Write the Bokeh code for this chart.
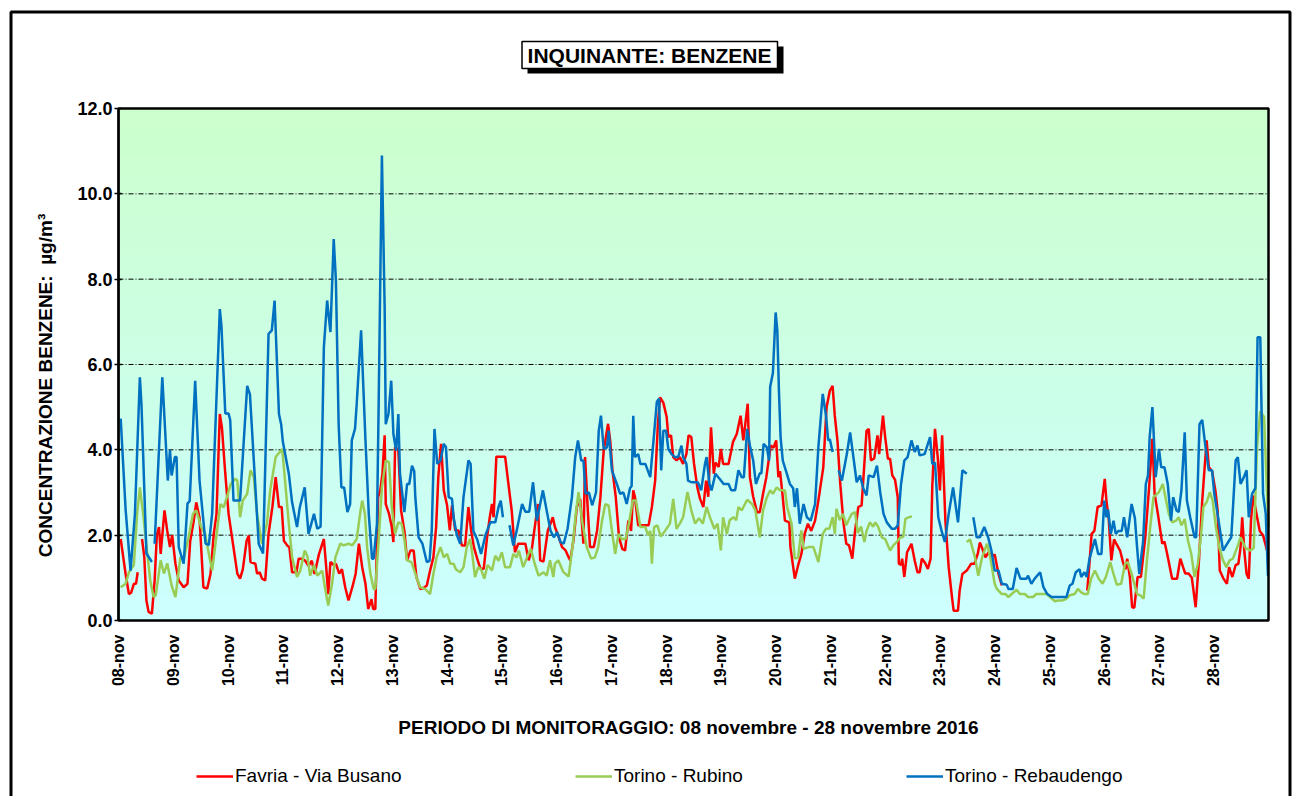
import numpy as np
from bokeh.plotting import figure
from bokeh.models import (FixedTicker, Label, BoxAnnotation, Legend, LegendItem,
                          PrintfTickFormatter, Range1d)
from bokeh.embed import file_html
from bokeh.resources import INLINE

# ---------------- data (days since 08-nov 00:00, µg/m3) ----------------
DAY_LABELS = ["08-nov", "09-nov", "10-nov", "11-nov", "12-nov", "13-nov", "14-nov",
              "15-nov", "16-nov", "17-nov", "18-nov", "19-nov", "20-nov", "21-nov",
              "22-nov", "23-nov", "24-nov", "25-nov", "26-nov", "27-nov", "28-nov"]
Y_TICKS = [0, 2, 4, 6, 8, 10, 12]
GRID_TICKS = [2, 4, 6, 8, 10]

FAVRIA_DAY = [0.04, 0.13, 0.19, 0.23, 0.28, 0.32, 0.35, None, 0.43, 0.47, 0.51, 0.55, 0.61, 0.66, 0.7, 0.74, 0.77, 0.84, 0.89, 0.94, 0.98,
              1.04, 1.1, 1.19, 1.26, 1.31, 1.37, 1.42, 1.48, 1.55, 1.62, 1.68, 1.74, 1.79, 1.85, 1.89, 1.95, 2.01, 2.09, 2.17, 2.22, 2.27,
              2.34, 2.38, 2.41, 2.5, 2.53, 2.58, 2.62, 2.68, 2.74, 2.81, 2.87, 2.93, 2.98, 3.02, 3.08, 3.12, 3.17, 3.25, 3.29, 3.35, 3.41,
              3.47, 3.53, 3.58, 3.66, 3.75, 3.79, 3.83, 3.87, 3.93, 3.97, 4.03, 4.08, 4.14, 4.2, 4.27, 4.33, 4.39, 4.45, 4.51, 4.56, 4.62,
              4.65, 4.69, 4.74, 4.78, 4.82, 4.86, 4.88, 4.94, 4.99, 5.02, 5.05, 5.11, 5.16, 5.22, 5.27, 5.33, 5.39, 5.44, 5.51, 5.57, 5.63,
              5.69, 5.75, 5.8, 5.84, 5.89, 5.94, 6.0, 6.05, 6.09, 6.15, 6.21, 6.27, 6.33, 6.39, 6.44, 6.49, 6.55, 6.61, 6.67, 6.73, 6.78,
              6.82, 6.85, 6.9, 7.06, 7.12, 7.18, 7.24, 7.3, 7.43, 7.46, 7.49, 7.55, 7.61, 7.66, 7.7, 7.76, 7.84, 7.89, 7.93, 7.97, 8.04,
              8.1, 8.16, 8.22, 8.25, 8.31, 8.37, 8.43, 8.49, 8.52, 8.57, 8.61, 8.68, 8.74, 8.8, 8.86, 8.94, 8.98, 9.02, 9.08, 9.14, 9.2,
              9.25, 9.31, 9.36, 9.4, 9.43, 9.49, 9.68, 9.74, 9.8, 9.85, 9.89, 9.95, 10.01, 10.04, 10.09, 10.13, 10.19, 10.25, 10.31, 10.37,
              10.41, 10.46, 10.51, 10.57, 10.62, 10.68, 10.73, 10.77, 10.82, 10.87, 10.9, 10.96, 11.0, 11.04, 11.14, 11.22, 11.29, 11.36,
              11.41, 11.49, 11.53, 11.59, 11.66, 11.71, 11.77, 11.83, 11.91, 11.96, 12.01, 12.05, 12.08, 12.13, 12.17, 12.25, 12.27,
              12.35, 12.41, 12.47, 12.53, 12.59, 12.65, 12.72, 12.78, 12.87, 12.93, 12.99, 13.04, 13.08, 13.13, 13.18, 13.24, 13.29,
              13.34, 13.4, 13.45, 13.51, 13.57, 13.62, 13.66, 13.7, 13.74, 13.8, 13.86, 13.89, 13.96, 14.0, 14.05, 14.09, 14.13, 14.18,
              14.23, 14.25, 14.29, 14.31, 14.35, 14.4, 14.48, 14.54, 14.59, 14.63, 14.67, 14.73, 14.78, 14.83, 14.86, 14.91, 14.96, 15.0,
              15.04, 15.1, 15.16, 15.22, 15.25, 15.33, 15.36, 15.41, 15.49, 15.57, 15.63, 15.69, 15.73, 15.77, 15.83, 15.89, 15.95, 16.0,
              16.07, 16.13, None, 17.69, 17.73, 17.77, 17.82, 17.88, 17.95, 18.01, 18.04, 18.08, 18.13, 18.18, 18.22, 18.29, 18.35, 18.39,
              18.42, 18.47, 18.51, 18.55, 18.61, 18.67, 18.75, 18.82, 18.88, 18.92, 18.98, 19.06, 19.1, 19.15, 19.24, 19.33, 19.39, 19.44,
              19.48, 19.54, 19.6, 19.67, 19.73, 19.79, 19.87, 19.91, 19.97, 20.03, 20.07, 20.11, 20.17, 20.24, 20.28, 20.34, 20.4, 20.45,
              20.49, 20.52, 20.56, 20.6, 20.64, 20.68, 20.72, 20.78, 20.84, 20.9, 20.99]
FAVRIA_VAL = [1.91, 1.09, 0.62, 0.65, 0.86, 0.86, 1.13, None, 1.91, 1.5, 0.47, 0.2, 0.16, 0.94, 2.0, 2.19, 1.56, 2.58, 2.1, 1.72, 2.0,
              1.33, 0.94, 0.78, 0.86, 1.87, 2.3, 2.77, 2.4, 0.78, 0.75, 1.09, 2.03, 2.5, 4.84, 4.5, 3.44, 2.5, 1.8, 1.1, 0.98, 1.2,
              1.87, 1.99, 1.37, 1.33, 1.1, 1.13, 0.98, 0.94, 2.03, 2.66, 3.36, 2.66, 2.66, 1.87, 1.76, 1.72, 1.13, 1.13, 1.45, 1.45, 1.4,
              1.28, 1.4, 1.09, 1.55, 1.91, 1.3, 0.62, 1.37, 1.3, 1.33, 1.1, 1.2, 0.78, 0.47, 0.78, 1.09, 1.8, 1.25, 0.86, 0.27, 0.5,
              0.27, 0.27, 2.89, 3.05, 3.44, 4.34, 2.73, 2.5, 2.19, 1.84, 4.06, 4.0, 2.58, 2.1, 1.41, 1.64, 1.64, 1.02, 0.74, 0.76, 0.82,
              1.17, 1.48, 2.19, 3.36, 4.14, 3.05, 2.7, 2.11, 2.7, 2.11, 2.11, 1.76, 1.76, 2.66, 2.1, 1.72, 1.45, 1.21, 1.21, 1.95, 2.42,
              2.73, 2.42, 3.84, 3.84, 3.2, 2.58, 1.6, 1.8, 1.8, 1.6, 1.41, 1.7, 2.27, 2.73, 1.41, 1.38, 2.11, 2.27, 2.42, 2.19, 1.95,
              1.72, 1.65, 1.48, 1.41, 1.9, 2.66, 2.85, 1.8, 3.83, 2.58, 1.72, 1.72, 2.11, 2.89, 3.98, 4.61, 4.2, 3.52, 2.9, 1.95, 1.68,
              1.64, 2.34, 2.1, 3.05, 2.9, 2.23, 2.23, 2.66, 3.28, 4.61, 5.23, 5.1, 4.77, 4.3, 4.34, 3.83, 3.75, 3.83, 3.67, 3.9,
              4.34, 4.3, 3.67, 3.12, 2.85, 2.66, 3.28, 2.9, 4.53, 3.44, 3.7, 3.6, 4.02, 3.67, 3.67, 4.18, 4.37, 4.8,
              4.22, 5.08, 3.36, 2.9, 2.54, 2.54, 2.97, 3.36, 4.1, 4.05, 4.22, 3.36, 3.5, 2.89, 2.34, 2.3, 1.72,
              0.98, 1.29, 1.56, 2.03, 2.27, 2.1, 2.34, 2.81, 3.59, 5.0, 5.39, 5.5, 4.8, 4.2, 3.2, 2.27, 1.8,
              1.76, 1.45, 2.1, 2.66, 2.7, 3.67, 4.45, 4.49, 3.75, 3.8, 4.34, 3.9, 4.8, 4.3, 3.79, 3.79, 3.4, 3.3,
              2.89, 1.33, 1.3, 1.45, 1.02, 1.6, 1.8, 1.4, 1.13, 1.13, 1.45, 1.35, 1.21, 1.45, 3.12, 4.49, 3.83, 3.05,
              4.34, 2.33, 1.25, 0.55, 0.23, 0.23, 0.7, 1.09, 1.17, 1.33, 1.33, 1.56, 1.83, 1.7, 1.48, 1.6, 1.5, 1.55,
              1.09, 0.82, None, 0.7, 1.33, 2.03, 2.1, 2.66, 2.7, 3.32, 2.81, 2.42, 1.41, 1.9, 1.8, 1.64, 1.33, 1.2,
              1.45, 1.0, 0.31, 0.3, 1.02, 1.02, 1.95, 3.12, 4.26, 2.97, 2.5, 1.8, 1.85, 1.56, 0.98, 0.98, 1.45, 1.25,
              1.1, 1.1, 1.0, 0.31, 1.41, 2.81, 4.22, 3.6, 3.5, 3.05, 2.6, 1.17, 1.0, 0.86, 1.25, 1.02, 1.3, 1.33,
              1.72, 2.42, 1.6, 1.09, 0.98, 2.34, 2.93, 2.5, 2.1, 2.0, 1.56]

RUBINO_DAY = [0.04, 0.13, 0.19, 0.28, 0.34, 0.39, 0.45, 0.52, 0.58, 0.64, 0.68, 0.77, 0.83, 0.89, 0.97, 1.04, 1.13, 1.2, 1.28, 1.36,
              1.42, 1.51, 1.58, 1.65, 1.71, 1.8, 1.86, 1.92, 1.98, 2.05, 2.13, 2.17, 2.22, 2.27, 2.35, 2.41, 2.47, 2.53, 2.62, 2.71,
              2.77, 2.87, 2.99, 3.03, 3.11, 3.17, 3.26, 3.32, 3.4, 3.45, 3.5, 3.57, 3.63, 3.72, 3.78, 3.83, 3.9, 3.96, 4.05, 4.11,
              4.2, 4.27, 4.35, 4.42, 4.45, 4.5, 4.54, 4.6, 4.66, 4.69, 4.75, 4.81, 4.88, 4.94, 4.99, 5.05, 5.11, 5.17, 5.22, 5.27,
              5.35, 5.45, 5.51, 5.6, 5.69, 5.75, 5.81, 5.88, 5.94, 6.0, 6.06, 6.12, 6.16, 6.24, 6.3, 6.36, 6.42, 6.46, 6.51, 6.57,
              6.62, 6.68, 6.74, 6.82, 6.88, 6.94, 7.0, 7.06, 7.15, 7.21, 7.27, 7.31, 7.39, 7.46, 7.53, 7.6, 7.67, 7.76, 7.82, 7.88,
              7.94, 7.97, 8.03, 8.12, 8.22, 8.29, 8.35, 8.4, 8.47, 8.55, 8.63, 8.7, 8.76, 8.83, 8.89, 8.95, 9.01, 9.07, 9.13, 9.19,
              9.26, 9.31, 9.39, 9.45, 9.53, 9.62, 9.67, 9.71, 9.74, 9.78, 9.84, 9.9, 9.98, 10.07, 10.13, 10.19, 10.25, 10.31, 10.39,
              10.46, 10.53, 10.6, 10.67, 10.74, 10.8, 10.88, 10.94, 11.0, 11.04, 11.11, 11.16, 11.23, 11.28, 11.32, 11.38, 11.48,
              11.57, 11.63, 11.71, 11.77, 11.84, 11.9, 11.95, 12.02, 12.08, 12.17, 12.21, 12.29, 12.35, 12.41, 12.47, 12.51, 12.6,
              12.69, 12.78, 12.86, 12.92, 12.98, 13.04, 13.08, 13.11, 13.17, 13.23, 13.29, 13.33, 13.39, 13.45, 13.5, 13.56, 13.62,
              13.66, 13.72, 13.78, 13.82, 13.87, 13.94, 14.0, 14.09, 14.15, 14.21, 14.27, 14.33, 14.37, 14.43, 14.49, None, 15.49,
              15.55, 15.64, 15.7, 15.77, 15.86, 15.92, 16.0, 16.04, 16.13, 16.2, 16.25, 16.31, 16.4, 16.46, 16.55, 16.61, 16.7,
              16.76, 16.95, 17.01, 17.1, 17.16, 17.24, 17.31, 17.37, 17.46, 17.52, 17.58, 17.64, 17.7, 17.76, 17.83, 17.9, 17.97,
              18.03, 18.11, 18.17, 18.23, 18.31, 18.38, 18.43, 18.5, 18.55, 18.6, 18.66, 18.72, 18.78, 18.84, 18.9, 19.0, 19.07,
              19.13, 19.18, 19.24, 19.31, 19.36, 19.41, 19.47, 19.53, 19.59, 19.65, 19.71, 19.77, 19.81, 19.87, 19.93, 19.98, 20.04,
              20.1, 20.17, 20.23, 20.29, 20.35, 20.43, 20.49, 20.58, 20.67, 20.73, 20.79, 20.85, 20.92, 20.96, 21.0]
RUBINO_VAL = [0.78, 0.86, 1.13, 1.3, 2.5, 3.12, 2.5, 1.64, 0.94, 0.55, 0.59, 1.41, 1.1, 1.34, 0.82, 0.55, 1.48, 1.48, 1.95, 2.5,
              2.58, 2.19, 2.03, 1.56, 1.17, 2.11, 2.73, 2.65, 2.89, 3.2, 3.32, 3.28, 2.42, 2.81, 2.97, 3.52, 3.36, 2.5, 1.8, 2.27,
              3.05, 3.83, 4.02, 3.44, 2.27, 1.48, 1.02, 1.17, 1.64, 1.5, 1.05, 1.3, 1.05, 1.17, 0.7, 0.35, 0.86, 1.48, 1.8, 1.76,
              1.8, 1.76, 1.91, 2.58, 2.81, 2.5, 1.72, 1.1, 0.74, 0.74, 1.87, 3.12, 3.75, 3.71, 2.66, 2.03, 2.3, 2.27, 1.9, 1.41,
              1.37, 0.98, 0.78, 0.74, 0.62, 1.09, 1.48, 1.72, 1.48, 1.56, 1.33, 1.33, 1.2, 1.13, 1.25, 1.72, 1.91, 1.56, 1.02, 1.25,
              1.2, 0.98, 1.3, 1.17, 1.52, 1.4, 1.6, 1.25, 1.25, 1.56, 1.48, 1.64, 1.25, 1.48, 1.68, 1.33, 1.05, 1.13, 1.05, 1.41,
              1.02, 1.33, 1.41, 1.14, 1.03, 1.72, 2.5, 3.01, 2.3, 1.72, 1.45, 1.48, 1.72, 2.34, 2.73, 2.69, 2.11, 1.56, 2.03, 1.91,
              1.91, 2.2, 2.81, 2.81, 2.19, 2.19, 2.0, 2.1, 1.33, 2.19, 2.23, 1.97, 2.1, 2.27, 2.85, 2.15, 2.27, 2.42, 3.01,
              2.58, 2.27, 2.4, 2.27, 2.66, 2.42, 2.15, 2.27, 1.64, 2.42, 2.03, 2.35, 2.42, 2.35, 2.66, 2.58, 2.83,
              2.73, 2.58, 1.95, 2.58, 2.89, 3.05, 2.97, 3.12, 3.05, 3.05, 2.66, 2.27, 1.45, 1.48, 2.11, 1.68, 1.72,
              1.72, 1.37, 2.03, 2.15, 2.15, 2.42, 2.03, 2.62, 2.35, 2.5, 2.23, 2.35, 2.5, 2.54, 2.05, 2.2, 1.84,
              2.1, 2.3, 2.2, 2.3, 2.2, 1.95, 1.91, 1.64, 1.76, 1.84, 1.94, 1.96, 2.38, 2.42, 2.44, None, 1.84,
              1.9, 1.48, 1.05, 1.48, 1.8, 1.48, 0.86, 0.74, 0.62, 0.62, 0.55, 0.62, 0.72, 0.62, 0.62, 0.55, 0.55,
              0.62, 0.62, 0.55, 0.45, 0.47, 0.47, 0.51, 0.59, 0.62, 0.74, 0.66, 0.62, 0.62, 0.98, 1.17, 0.98, 0.86,
              1.02, 1.37, 1.09, 0.84, 0.86, 1.33, 1.37, 1.1, 0.86, 0.62, 0.59, 0.51, 1.41, 2.19, 2.89, 3.01, 3.2,
              2.81, 2.5, 2.3, 2.34, 2.42, 2.23, 2.38, 1.87, 1.56, 1.02, 1.33, 2.03, 2.66, 2.77, 3.01, 2.81, 2.19,
              1.72, 1.41, 1.25, 1.41, 1.45, 1.72, 1.95, 1.7, 1.64, 1.7, 4.06, 4.9, 4.77, 3.4, 2.19]

REBAUDENGO_DAY = [0.04, 0.13, 0.22, 0.3, 0.39, 0.42, 0.51, 0.61, None, 0.66, 0.8, 0.9, 0.94, 0.97, 1.03, 1.06, 1.1, 1.19, 1.26, 1.3,
                  1.4, 1.48, 1.59, 1.65, 1.71, 1.85, 1.88, 1.95, 2.01, 2.04, 2.1, 2.22, 2.35, 2.4, 2.56, 2.64, 2.74, 2.8, 2.85, 2.93,
                  2.97, 3.0, 3.11, 3.17, 3.26, 3.31, 3.4, 3.47, 3.57, 3.63, 3.69, 3.75, 3.81, 3.87, 3.93, 3.97, 4.02, 4.07, 4.12,
                  4.18, 4.23, 4.26, 4.32, 4.35, 4.43, 4.51, 4.57, 4.63, 4.66, 4.72, 4.75, 4.81, 4.86, 4.88, 4.93, 4.98, 5.02, 5.07,
                  5.11, 5.14, 5.22, 5.27, 5.31, 5.36, 5.4, 5.42, 5.48, 5.55, 5.63, 5.68, 5.72, 5.77, 5.82, 5.88, 5.94, 5.98, 6.03,
                  6.09, 6.12, 6.18, 6.24, 6.3, 6.39, 6.43, 6.48, 6.55, 6.62, 6.7, 6.79, 6.88, 6.94, 6.98, 7.02, None, 7.14, 7.21,
                  7.27, 7.37, 7.43, 7.5, 7.57, 7.64, 7.75, 7.83, 7.89, 7.95, 8.01, 8.07, 8.13, 8.2, 8.28, 8.34, 8.39, 8.45, 8.49,
                  8.53, 8.59, 8.65, 8.72, 8.77, 8.81, 8.86, 8.92, 8.95, 9.01, 9.1, 9.16, 9.22, 9.28, 9.34, 9.37, 9.4, 9.43, 9.49,
                  9.53, 9.62, 9.71, 9.77, 9.83, 9.87, 9.91, 9.95, 10.0, 10.04, 10.1, 10.16, 10.22, 10.28, 10.31, 10.37, 10.4, 10.46,
                  10.58, 10.64, 10.71, 10.74, 10.79, 10.83, 10.9, 10.99, 11.05, 11.14, 11.19, 11.26, 11.32, 11.38, 11.42, 11.48,
                  11.53, 11.59, 11.64, 11.71, 11.74, 11.78, 11.84, 11.88, 11.9, 11.95, 12.0, 12.03, 12.06, 12.09, 12.13, 12.19,
                  12.26, 12.32, 12.35, 12.39, 12.44, 12.51, 12.57, 12.64, 12.72, 12.78, 12.86, 12.92, 12.96, 12.99, 13.04, None,
                  13.15, 13.21, 13.3, 13.36, 13.42, 13.48, 13.54, 13.6, 13.66, 13.7, 13.79, 13.85, 13.91, 13.97, 14.03, 14.12, 14.18,
                  14.23, 14.29, 14.35, 14.41, 14.48, 14.54, 14.59, 14.63, 14.72, 14.82, 14.86, 14.91, 14.97, 15.03, 15.09, 15.16,
                  15.24, 15.33, 15.41, 15.49, None, 15.61, 15.67, 15.73, 15.81, 15.88, 15.94, 16.0, 16.07, 16.13, 16.22, 16.25,
                  16.33, 16.4, 16.47, 16.58, 16.61, 16.67, 16.73, 16.83, 16.89, 16.96, 17.04, 17.31, 17.37, 17.42, 17.48, 17.55,
                  17.58, 17.64, 17.68, 17.73, 17.83, 17.89, 17.95, 18.0, 18.04, 18.07, 18.12, 18.17, 18.21, 18.26, 18.32, 18.36,
                  18.42, 18.5, 18.56, 18.6, 18.64, 18.71, 18.76, 18.8, 18.83, 18.88, 18.94, 19.0, 19.04, 19.1, 19.16, 19.22, 19.26,
                  19.32, 19.36, 19.41, 19.47, 19.51, 19.57, 19.65, 19.68, 19.74, 19.79, 19.85, 19.91, 19.97, 20.01, 20.07, 20.17,
                  20.26, 20.32, 20.4, 20.44, 20.49, 20.55, 20.6, 20.64, 20.7, 20.76, 20.8, 20.85, 20.9, 20.95, 20.99]
REBAUDENGO_VAL = [4.73, 2.6, 1.17, 2.5, 5.7, 5.05, 1.57, 1.37, None, 1.8, 5.7, 3.28, 4.0, 3.4, 3.83, 3.83, 1.72, 1.33, 2.74, 2.8,
                  5.62, 3.28, 1.8, 1.77, 2.5, 7.3, 6.9, 4.85, 4.85, 4.7, 2.81, 2.81, 5.5, 5.3, 1.8, 1.57, 6.72, 6.8, 7.5, 4.84,
                  4.6, 4.2, 3.44, 2.77, 2.19, 2.65, 3.12, 2.03, 2.5, 2.15, 2.2, 6.4, 7.5, 6.76, 8.94, 7.97, 4.6, 3.12, 3.12,
                  2.54, 2.73, 4.22, 4.5, 5.08, 6.8, 4.22, 2.5, 1.45, 1.45, 2.27, 5.0, 10.9, 7.34, 4.6, 4.84, 5.62, 4.37, 3.98,
                  4.84, 3.44, 2.54, 3.2, 3.2, 3.63, 3.5, 2.89, 1.95, 1.8, 1.37, 1.4, 2.1, 4.49, 3.67, 3.75, 4.14, 4.06, 2.89,
                  2.85, 2.4, 2.0, 1.8, 2.89, 3.75, 3.67, 2.1, 1.9, 1.56, 2.0, 2.3, 2.3, 2.66, 2.81, 2.42, None, 2.23, 1.76,
                  2.1, 2.73, 2.55, 2.55, 3.24, 2.34, 3.05, 2.5, 2.1, 1.95, 2.07, 1.84, 1.8, 2.15, 2.89, 3.83, 4.22, 3.75, 3.75,
                  2.97, 3.0, 2.7, 3.0, 4.45, 4.8, 4.02, 4.06, 4.45, 3.52, 3.2, 2.97, 3.0, 2.73, 3.1, 3.15, 4.8, 3.83, 3.9,
                  3.67, 3.67, 3.36, 4.22, 5.12, 5.2, 3.52, 4.45, 4.45, 4.02, 3.9, 3.83, 3.83, 4.1, 3.83, 3.67, 3.28, 3.24,
                  3.24, 3.05, 3.67, 3.83, 3.2, 3.05, 3.44, 3.3, 3.2, 3.2, 3.05, 3.05, 3.52, 3.36, 3.36, 4.49,
                  4.1, 3.75, 3.2, 3.45, 3.45, 4.14, 4.06, 3.75, 5.47, 5.8, 7.22, 6.8, 5.39, 4.3, 3.75, 3.5,
                  3.2, 3.1, 2.66, 3.1, 2.27, 2.73, 2.42, 2.34, 2.73, 4.06, 5.31, 4.8, 4.22, 4.25, 3.95, None,
                  3.52, 3.28, 3.9, 4.41, 3.83, 3.24, 3.4, 3.1, 2.93, 3.4, 3.36, 3.63, 3.0, 2.5, 2.3, 2.15, 2.15,
                  2.23, 3.2, 3.75, 3.83, 4.22, 3.95, 4.1, 3.87, 3.9, 4.3, 3.67, 3.7, 2.42, 2.1, 1.84, 2.5,
                  3.12, 2.3, 3.52, 3.44, None, 2.42, 1.95, 1.95, 2.19, 1.95, 1.64, 1.17, 1.17, 0.86, 0.84, 0.74,
                  0.74, 1.23, 0.98, 0.98, 1.05, 0.86, 0.98, 1.13, 0.78, 0.62, 0.55, 0.55, 0.82, 0.86, 1.13, 1.2,
                  1.02, 1.13, 1.02, 1.44, 1.91, 1.56, 1.56, 2.81, 2.42, 2.6, 2.03, 2.34, 2.03, 2.1, 2.1, 2.42,
                  1.95, 2.73, 2.4, 1.72, 1.09, 1.85, 3.2, 3.4, 4.3, 5.0, 3.36, 4.02, 3.59, 3.59, 3.2, 2.34, 2.89,
                  2.58, 2.54, 3.05, 4.41, 2.81, 2.42, 1.95, 1.95, 4.6, 4.7, 4.06, 3.52, 3.52, 2.97, 2.5, 1.64,
                  1.83, 1.95, 3.75, 3.83, 3.2, 3.36, 3.52, 2.42, 2.97, 3.1, 6.64, 6.64, 2.97, 2.5, 1.05]


def arr(values):
    return np.array([np.nan if v is None else v for v in values], dtype=float)


FONT = "Liberation Sans"
W, H = 1295, 796
N_DAYS = len(DAY_LABELS)  # 21 days shown, x from 0 to 21
Y_MAX = Y_TICKS[-1]
# plot area occupies pixels x 118..1268 and y 108..620 of the canvas
PX_PER_DAY = 1150 / N_DAYS
PX_PER_UNIT = 512 / Y_MAX

p = figure(width=W, height=H,
           x_range=Range1d(-118 / PX_PER_DAY, N_DAYS + (W - 1268) / PX_PER_DAY),
           y_range=Range1d(-(H - 620) / PX_PER_UNIT, Y_MAX + 108 / PX_PER_UNIT),
           output_backend="svg", toolbar_location=None,
           min_border=0, min_border_left=0, min_border_right=0,
           min_border_top=0, min_border_bottom=0)
p.background_fill_color = "white"
p.border_fill_color = "white"
p.outline_line_color = None

# gradient plot-area background (light green top -> light cyan bottom)
n = 240
t = np.linspace(0.0, 1.0, n)[:, None] * np.ones((1, 2))
img = np.empty((n, 2), dtype=np.uint32)
view = img.view(dtype=np.uint8).reshape((n, 2, 4))
view[..., 0] = 204
view[..., 1] = 255
view[..., 2] = np.round(255 - 51 * t).astype(np.uint8)
view[..., 3] = 255
p.image_rgba(image=[img], x=0, y=0, dw=N_DAYS, dh=Y_MAX, level="image")

# horizontal grid lines restricted to the plot area
p.xgrid.visible = False
p.ygrid.visible = False
p.segment(x0=[0] * len(GRID_TICKS), x1=[N_DAYS] * len(GRID_TICKS), y0=GRID_TICKS, y1=GRID_TICKS,
          line_color="black", line_width=1, line_dash="5 2 1 2", level="underlay")

# series
r_fav = p.line(arr(FAVRIA_DAY), arr(FAVRIA_VAL), line_color="#FF0000", line_width=2.5)
r_rub = p.line(arr(RUBINO_DAY), arr(RUBINO_VAL), line_color="#99CC55", line_width=2.5)
r_reb = p.line(arr(REBAUDENGO_DAY), arr(REBAUDENGO_VAL), line_color="#0070C0", line_width=2.5)

# plot-area border
p.add_layout(BoxAnnotation(left=0, right=N_DAYS, bottom=0, top=Y_MAX,
                           fill_alpha=0, line_color="black", line_alpha=1, line_width=2.5))

# x axis
xa = p.xaxis[0]
xa.fixed_location = 0
xa.bounds = (0, N_DAYS)
xa.ticker = FixedTicker(ticks=list(range(N_DAYS)))
xa.major_label_overrides = {i: lab for i, lab in enumerate(DAY_LABELS)}
xa.major_label_orientation = np.pi / 2
xa.axis_line_color = None
xa.major_tick_line_color = None
xa.minor_tick_line_color = None
xa.major_label_standoff = 8
xa.major_label_text_font = FONT
xa.major_label_text_font_style = "bold"
xa.major_label_text_font_size = "16px"
xa.major_label_text_color = "black"

# y axis
ya = p.yaxis[0]
ya.fixed_location = 0
ya.bounds = (0, Y_MAX)
ya.ticker = FixedTicker(ticks=Y_TICKS)
ya.formatter = PrintfTickFormatter(format="%.1f")
ya.axis_line_color = "black"
ya.axis_line_width = 2
ya.major_tick_line_color = "black"
ya.major_tick_line_width = 1.5
ya.major_tick_out = 4
ya.major_tick_in = 3
ya.minor_tick_line_color = None
ya.major_label_standoff = 2
ya.major_label_text_font = FONT
ya.major_label_text_font_style = "bold"
ya.major_label_text_font_size = "18px"
ya.major_label_text_color = "black"


def scr(box_left, box_right, box_top, box_bottom, **kw):
    """BoxAnnotation in canvas pixels (top-left origin)."""
    return BoxAnnotation(left=box_left, right=box_right, top=H - box_top, bottom=H - box_bottom,
                         left_units="screen", right_units="screen",
                         top_units="screen", bottom_units="screen", **kw)


# outer chart border
p.add_layout(scr(10.5, 1289.5, 11.5, 806, fill_alpha=0, line_color="black",
                 line_alpha=1, line_width=3))

# title box with shadow
p.add_layout(scr(527, 783, 46, 73, fill_color="black", fill_alpha=1, line_alpha=0))
p.add_layout(scr(521.5, 777, 41, 68, fill_color="white", fill_alpha=1,
                 line_color="black", line_alpha=1, line_width=1.5))
p.add_layout(Label(x=649, y=H - 54.5, x_units="screen", y_units="screen",
                   text="INQUINANTE: BENZENE", text_align="center", text_baseline="middle",
                   text_font=FONT, text_font_style="bold", text_font_size="21px",
                   text_color="black"))

# axis titles
p.add_layout(Label(x=45, y=H - 385, x_units="screen", y_units="screen",
                   text="CONCENTRAZIONE BENZENE:\u00a0\u00a0µg/m³", angle=np.pi / 2,
                   text_align="center", text_baseline="middle",
                   text_font=FONT, text_font_style="bold", text_font_size="19px",
                   text_color="black"))
p.add_layout(Label(x=688, y=H - 727, x_units="screen", y_units="screen",
                   text="PERIODO DI MONITORAGGIO: 08 novembre - 28 novembre 2016",
                   text_align="center", text_baseline="middle",
                   text_font=FONT, text_font_style="bold", text_font_size="19px",
                   text_color="black"))

# legend (three separately positioned entries)
for lab, rr, xpos in [("Favria - Via Busano", r_fav, 196),
                      ("Torino - Rubino", r_rub, 575),
                      ("Torino - Rebaudengo", r_reb, 906)]:
    lg = Legend(items=[LegendItem(label=lab, renderers=[rr])], location=(xpos, H - 787),
                orientation="horizontal", padding=0, margin=0, spacing=0,
                glyph_width=37, glyph_height=20, label_standoff=2,
                label_text_font=FONT, label_text_font_size="19px", label_text_color="black",
                border_line_alpha=0, background_fill_alpha=0)
    p.add_layout(lg)

html = file_html(p, INLINE)
with open("out.html", "w") as f:
    f.write(html)
